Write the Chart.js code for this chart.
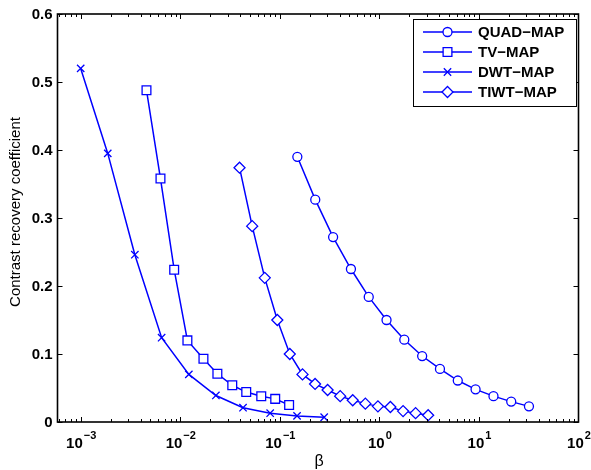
<!DOCTYPE html>
<html>
<head>
<meta charset="utf-8">
<script src="https://cdn.jsdelivr.net/npm/chart.js@4"></script>
<style>
  body { margin: 0; background: #fff; }
  canvas { display: block; }
</style>
</head>
<body>
<canvas id="crc-chart" width="591" height="470"></canvas>
<script>
// Contrast recovery vs. regularisation strength for each prior
const quadBeta = [0.150, 0.227, 0.343, 0.518, 0.782, 1.18, 1.78, 2.69, 4.06, 6.13, 9.25, 14.0, 21.1, 31.8];
const quadCrc = [0.390, 0.327, 0.272, 0.225, 0.184, 0.150, 0.121, 0.097, 0.078, 0.061, 0.048, 0.038, 0.030, 0.023];

const tvBeta = [0.00458, 0.00633, 0.00869, 0.0118, 0.0171, 0.0236, 0.0333, 0.0460, 0.0651, 0.0899, 0.124];
const tvCrc = [0.488, 0.358, 0.224, 0.120, 0.093, 0.071, 0.054, 0.044, 0.038, 0.034, 0.025];

const dwtBeta = [0.001, 0.00187, 0.0035, 0.0065, 0.0122, 0.0228, 0.0427, 0.080, 0.149, 0.279];
const dwtCrc = [0.520, 0.395, 0.246, 0.124, 0.070, 0.039, 0.021, 0.013, 0.009, 0.007];

const tiwtBeta = [0.0394, 0.0528, 0.0706, 0.0944, 0.126, 0.169, 0.226, 0.302, 0.404, 0.540, 0.723, 0.967, 1.29, 1.73, 2.31, 3.09];
const tiwtCrc = [0.374, 0.288, 0.212, 0.150, 0.100, 0.070, 0.056, 0.047, 0.038, 0.032, 0.027, 0.023, 0.022, 0.016, 0.013, 0.010];

const seriesNames = ["QUAD\u2212MAP", "TV\u2212MAP", "DWT\u2212MAP", "TIWT\u2212MAP"];

// axis ticks
const xTickExps = [-3, -2, -1, 0, 1, 2];
const yTicks = [0, 0.1, 0.2, 0.3, 0.4, 0.5, 0.6];
const yTickLabels = ["0", "0.1", "0.2", "0.3", "0.4", "0.5", "0.6"];

const BLUE = "#0000ff";
const TICK_FONT = "bold 15px 'Liberation Sans', Arial, sans-serif";
const EXP_FONT = "bold 11px 'Liberation Sans', Arial, sans-serif";

function toPoints(xs, ys) {
  return xs.map((x, i) => ({ x: x, y: ys[i] }));
}

function series(label, xs, ys, style, radius) {
  return {
    label: label,
    data: toPoints(xs, ys),
    borderColor: BLUE,
    borderWidth: 1.5,
    pointStyle: style,
    pointRadius: radius,
    pointBorderColor: BLUE,
    pointBackgroundColor: "#ffffff",
    pointBorderWidth: 1.3,
    fill: false,
    tension: 0,
  };
}

// box, inward ticks and tick labels drawn the MATLAB way
const axesBox = {
  id: "axesBox",
  afterDraw(chart) {
    const ctx = chart.ctx;
    const a = chart.chartArea;
    const xs = chart.scales.x;
    const ys = chart.scales.y;
    ctx.save();
    ctx.strokeStyle = "#000";
    ctx.lineWidth = 1.6;
    ctx.strokeRect(a.left, a.top, a.right - a.left, a.bottom - a.top);

    ctx.lineWidth = 1;
    ctx.beginPath();
    // y ticks on both sides
    yTicks.forEach((v) => {
      const py = Math.round(ys.getPixelForValue(v)) + 0.5;
      ctx.moveTo(a.left, py); ctx.lineTo(a.left + 5, py);
      ctx.moveTo(a.right, py); ctx.lineTo(a.right - 5, py);
    });
    // x decade and minor ticks top and bottom
    for (let e = -4; e <= 2; e++) {
      for (let m = 1; m <= 9; m++) {
        const v = m * Math.pow(10, e);
        const px = xs.getPixelForValue(v);
        if (px < a.left + 1 || px > a.right - 1) continue;
        const len = m === 1 ? 5 : 3;
        const p = Math.round(px) + 0.5;
        ctx.moveTo(p, a.bottom); ctx.lineTo(p, a.bottom - len);
        ctx.moveTo(p, a.top); ctx.lineTo(p, a.top + len);
      }
    }
    ctx.stroke();

    // y tick labels
    ctx.fillStyle = "#000";
    ctx.font = TICK_FONT;
    ctx.textAlign = "right";
    ctx.textBaseline = "middle";
    yTicks.forEach((v, i) => {
      ctx.fillText(yTickLabels[i], a.left - 5, ys.getPixelForValue(v) + 1);
    });

    // x tick labels: 10 with a raised exponent
    ctx.textAlign = "left";
    ctx.textBaseline = "alphabetic";
    xTickExps.forEach((e) => {
      const px = xs.getPixelForValue(Math.pow(10, e));
      const expText = e < 0 ? "\u2212" + Math.abs(e) : String(e);
      ctx.font = TICK_FONT;
      const baseW = ctx.measureText("10").width;
      ctx.font = EXP_FONT;
      const expW = ctx.measureText(expText).width;
      const x0 = px - (baseW + expW) / 2;
      ctx.font = TICK_FONT;
      ctx.fillText("10", x0, a.bottom + 26);
      ctx.font = EXP_FONT;
      ctx.fillText(expText, x0 + baseW + 1, a.bottom + 17);
    });

    // axis titles
    ctx.textAlign = "center";
    ctx.textBaseline = "middle";
    ctx.font = "16px 'Liberation Sans', Arial, sans-serif";
    ctx.fillText("\u03b2", (a.left + a.right) / 2 + 1, a.bottom + 40);
    ctx.font = "15px 'Liberation Sans', Arial, sans-serif";
    ctx.translate(16, 212);
    ctx.rotate(-Math.PI / 2);
    ctx.fillText("Contrast recovery coefficient", 0, 0);
    ctx.restore();
  },
};

// legend with line + marker samples
const lineLegend = {
  id: "lineLegend",
  afterDraw(chart) {
    const ctx = chart.ctx;
    const left = 413, top = 19, right = 576, bottom = 106;
    ctx.save();
    ctx.fillStyle = "#fff";
    ctx.fillRect(left, top, right - left, bottom - top);
    ctx.strokeStyle = "#000";
    ctx.lineWidth = 1;
    ctx.strokeRect(left + 0.5, top + 0.5, right - left, bottom - top);
    chart.data.datasets.forEach((ds, i) => {
      const y = 32 + i * 20;
      ctx.strokeStyle = ds.borderColor;
      ctx.lineWidth = ds.borderWidth;
      ctx.beginPath();
      ctx.moveTo(423, y);
      ctx.lineTo(472, y);
      ctx.stroke();
      ctx.fillStyle = ds.pointBackgroundColor;
      ctx.strokeStyle = ds.pointBorderColor;
      ctx.lineWidth = ds.pointBorderWidth;
      Chart.helpers.drawPoint(ctx, {
        pointStyle: ds.pointStyle,
        radius: ds.pointRadius,
        rotation: 0,
        borderWidth: ds.pointBorderWidth,
      }, 447.5, y);
      ctx.fillStyle = "#000";
      ctx.font = "bold 15px 'Liberation Sans', Arial, sans-serif";
      ctx.textAlign = "left";
      ctx.textBaseline = "middle";
      ctx.fillText(ds.label, 478, y + 1);
    });
    ctx.restore();
  },
};

new Chart(document.getElementById("crc-chart"), {
  type: "line",
  data: {
    datasets: [
      series(seriesNames[0], quadBeta, quadCrc, "circle", 4.5),
      series(seriesNames[1], tvBeta, tvCrc, "rect", 6.2),
      series(seriesNames[2], dwtBeta, dwtCrc, "crossRot", 5.2),
      series(seriesNames[3], tiwtBeta, tiwtCrc, "rectRot", 5.5),
    ],
  },
  options: {
    responsive: false,
    animation: false,
    devicePixelRatio: 1,
    layout: { padding: { top: 14, right: 12.5, left: 0, bottom: 0 } },
    plugins: {
      legend: { display: false },
      tooltip: { enabled: false },
    },
    scales: {
      x: {
        type: "logarithmic",
        min: 5.85e-4,
        max: 100,
        grid: { display: false },
        border: { display: false },
        ticks: { display: false },
        afterFit(scale) { scale.height = 48; },
      },
      y: {
        type: "linear",
        min: 0,
        max: 0.6,
        grid: { display: false },
        border: { display: false },
        ticks: { display: false },
        afterFit(scale) { scale.width = 57.5; },
      },
    },
  },
  plugins: [axesBox, lineLegend],
});
</script>
</body>
</html>
